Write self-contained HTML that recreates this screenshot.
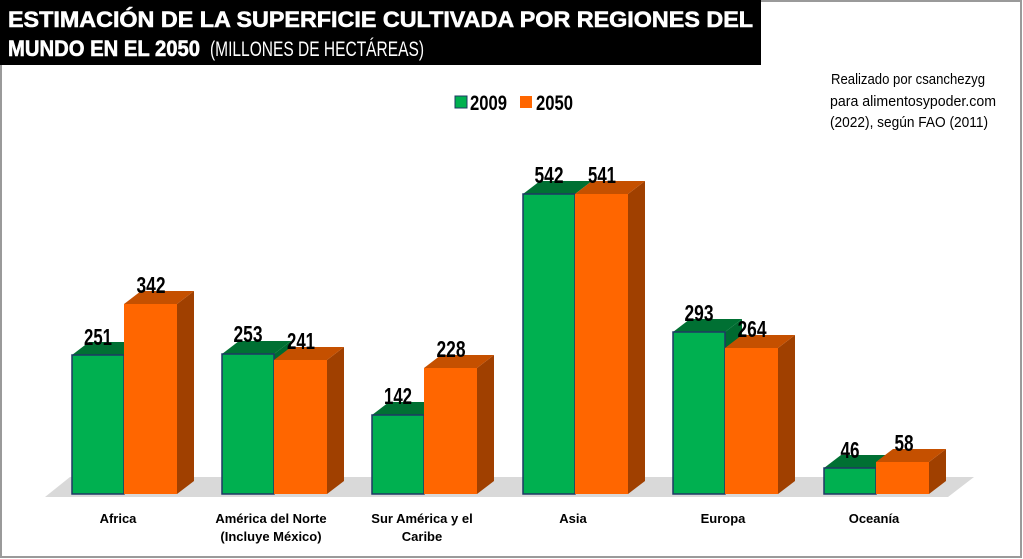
<!DOCTYPE html>
<html><head><meta charset="utf-8"><style>
html,body{margin:0;padding:0;background:#fff}
svg{display:block}
text{font-family:"Liberation Sans Narrow","Liberation Sans",sans-serif}
</style></head><body>
<svg width="1023" height="559" viewBox="0 0 1023 559" xmlns="http://www.w3.org/2000/svg">
<rect x="1" y="1" width="1020" height="556" fill="#fff" stroke="#9a9a9a" stroke-width="2"/>
<rect x="0" y="0" width="761" height="65" fill="#000"/>
<text x="8" y="27" fill="#fff" font-size="22" font-weight="bold" textLength="745" lengthAdjust="spacingAndGlyphs" stroke="#fff" stroke-width="0.6">ESTIMACIÓN DE LA SUPERFICIE CULTIVADA POR REGIONES DEL</text>
<text x="8" y="56" fill="#fff" font-size="22" font-weight="bold" textLength="192" lengthAdjust="spacingAndGlyphs" stroke="#fff" stroke-width="0.6">MUNDO EN EL 2050</text>
<text x="210" y="56" fill="#fff" font-size="21" textLength="214" lengthAdjust="spacingAndGlyphs">(MILLONES DE HECTÁREAS)</text>
<g font-size="15" fill="#000">
<text x="831" y="84" textLength="154" lengthAdjust="spacingAndGlyphs">Realizado por csanchezyg</text>
<text x="830" y="106" textLength="166" lengthAdjust="spacingAndGlyphs">para alimentosypoder.com</text>
<text x="830" y="127" textLength="158" lengthAdjust="spacingAndGlyphs">(2022), según FAO (2011)</text>
</g>
<rect x="455" y="96" width="12" height="12" fill="#00b050" stroke="#1f3864" stroke-width="1"/>
<text x="470" y="110" font-size="21" font-weight="bold" textLength="37" lengthAdjust="spacingAndGlyphs">2009</text>
<rect x="520" y="96" width="12" height="12" fill="#ff6600"/>
<text x="536" y="110" font-size="21" font-weight="bold" textLength="37" lengthAdjust="spacingAndGlyphs">2050</text>
<polygon points="45,497 948,497 974,477 70,477" fill="#d9d9d9"/>
<g font-size="13" font-weight="bold" text-anchor="middle">
<text x="118" y="523">Africa</text>
<text x="271" y="523">América del Norte</text>
<text x="271" y="541">(Incluye México)</text>
<text x="422" y="523">Sur América y el</text>
<text x="422" y="541">Caribe</text>
<text x="573" y="523">Asia</text>
<text x="723" y="523">Europa</text>
<text x="874" y="523">Oceanía</text>
</g>
<g stroke-linejoin="miter">
<polygon points="72,355 89,342 141,342 124,355" fill="#007033"/>
<rect x="72" y="355" width="52" height="139" fill="#00b050" stroke="#1f3864" stroke-width="1.5"/>
<polygon points="177,304 194,291 194,481 177,494" fill="#a04000"/>
<polygon points="124,304 141,291 194,291 177,304" fill="#c55000"/>
<rect x="124" y="304" width="53" height="190" fill="#ff6600"/>
<polygon points="274,354 291,341 291,481 274,494" fill="#006a30"/>
<polygon points="222,354 239,341 291,341 274,354" fill="#007033"/>
<rect x="222" y="354" width="52" height="140" fill="#00b050" stroke="#1f3864" stroke-width="1.5"/>
<polygon points="327,360 344,347 344,481 327,494" fill="#a04000"/>
<polygon points="274,360 291,347 344,347 327,360" fill="#c55000"/>
<rect x="274" y="360" width="53" height="134" fill="#ff6600"/>
<polygon points="372,415 389,402 441,402 424,415" fill="#007033"/>
<rect x="372" y="415" width="52" height="79" fill="#00b050" stroke="#1f3864" stroke-width="1.5"/>
<polygon points="477,368 494,355 494,481 477,494" fill="#a04000"/>
<polygon points="424,368 441,355 494,355 477,368" fill="#c55000"/>
<rect x="424" y="368" width="53" height="126" fill="#ff6600"/>
<polygon points="523,194 540,181 592,181 575,194" fill="#007033"/>
<rect x="523" y="194" width="52" height="300" fill="#00b050" stroke="#1f3864" stroke-width="1.5"/>
<polygon points="628,194 645,181 645,481 628,494" fill="#a04000"/>
<polygon points="575,194 592,181 645,181 628,194" fill="#c55000"/>
<rect x="575" y="194" width="53" height="300" fill="#ff6600"/>
<polygon points="725,332 742,319 742,481 725,494" fill="#006a30"/>
<polygon points="673,332 690,319 742,319 725,332" fill="#007033"/>
<rect x="673" y="332" width="52" height="162" fill="#00b050" stroke="#1f3864" stroke-width="1.5"/>
<polygon points="778,348 795,335 795,481 778,494" fill="#a04000"/>
<polygon points="725,348 742,335 795,335 778,348" fill="#c55000"/>
<rect x="725" y="348" width="53" height="146" fill="#ff6600"/>
<polygon points="824,468 841,455 893,455 876,468" fill="#007033"/>
<rect x="824" y="468" width="52" height="26" fill="#00b050" stroke="#1f3864" stroke-width="1.5"/>
<polygon points="929,462 946,449 946,481 929,494" fill="#a04000"/>
<polygon points="876,462 893,449 946,449 929,462" fill="#c55000"/>
<rect x="876" y="462" width="53" height="32" fill="#ff6600"/>
</g>
<g font-size="23" font-weight="bold" text-anchor="middle">
<text x="98" y="345" textLength="28" lengthAdjust="spacingAndGlyphs">251</text>
<text x="151" y="293" textLength="29" lengthAdjust="spacingAndGlyphs">342</text>
<text x="248" y="342" textLength="29" lengthAdjust="spacingAndGlyphs">253</text>
<text x="301" y="349" textLength="28" lengthAdjust="spacingAndGlyphs">241</text>
<text x="398" y="404" textLength="28" lengthAdjust="spacingAndGlyphs">142</text>
<text x="451" y="357" textLength="29" lengthAdjust="spacingAndGlyphs">228</text>
<text x="549" y="183" textLength="29" lengthAdjust="spacingAndGlyphs">542</text>
<text x="602" y="183" textLength="28" lengthAdjust="spacingAndGlyphs">541</text>
<text x="699" y="321" textLength="29" lengthAdjust="spacingAndGlyphs">293</text>
<text x="752" y="337" textLength="29" lengthAdjust="spacingAndGlyphs">264</text>
<text x="850" y="458" textLength="19" lengthAdjust="spacingAndGlyphs">46</text>
<text x="904" y="451" textLength="19" lengthAdjust="spacingAndGlyphs">58</text>
</g>
</svg>
</body></html>
